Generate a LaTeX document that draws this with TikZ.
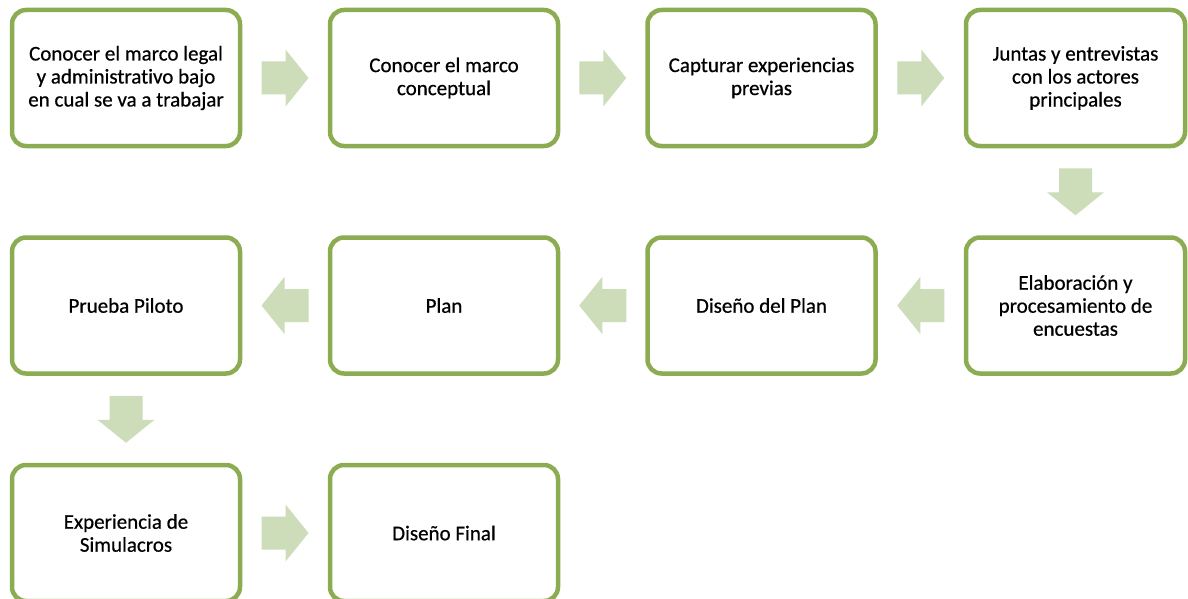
\documentclass[tikz,border=0pt]{standalone}
\usepackage{fontspec}
\setmainfont{Carlito}[Ligatures=NoCommon,FakeBold=0.6]
\definecolor{verdeborde}{RGB}{140,172,82}
\definecolor{verdeflecha}{RGB}{205,220,185}
\tikzset{
  paso/.style={draw=verdeborde,line width=2.25pt,rounded corners=7pt,fill=white,
    minimum width=114pt,minimum height=68pt,inner sep=0pt,align=center,
    font=\fontsize{10.5}{11.5}\selectfont},
  flecha/.pic={\fill[verdeflecha] (-23.5,-16.5) -- (0.5,-16.5) -- (0.5,-28.5) -- (23.5,0)
    -- (0.5,28.5) -- (0.5,16.5) -- (-23.5,16.5) -- cycle;}
}

\begin{document}
\begin{tikzpicture}[x=0.5pt,y=-0.5pt]
\clip (0,0) rectangle (1188,599);
\fill[white] (0,0) rectangle (1188,599);
\node[paso] (marco) at (126,78) {Conocer el marco legal\\y administrativo bajo\\en cual se va a trabajar};
\node[paso] (concepto) at (444,78) {Conocer el marco\\conceptual};
\node[paso] (captura) at (761.5,78) {Capturar experiencias\\previas};
\node[paso,minimum width=109.5pt] (juntas) at (1075.5,78) {Juntas y entrevistas\\con los actores\\principales};
\node[paso,minimum width=109.5pt] (encuestas) at (1075.5,305.5) {Elaboración y\\procesamiento de\\encuestas};
\node[paso] (diseno) at (761.5,305.5) {Diseño del Plan};
\node[paso] (plan) at (444,305.5) {Plan};
\node[paso] (piloto) at (126,305.5) {Prueba Piloto};
\node[paso] (simulacro) at (126,533) {Experiencia de\\Simulacros};
\node[paso] (final) at (444,533) {Diseño Final};
\path (marco) -- (concepto) coordinate[midway] (f1);
\path (concepto) -- (captura) coordinate[midway] (f2);
\path (captura) -- (juntas) coordinate[midway] (f3);
\path (juntas) -- (encuestas) coordinate[midway] (f4);
\path (encuestas) -- (diseno) coordinate[midway] (f5);
\path (diseno) -- (plan) coordinate[midway] (f6);
\path (plan) -- (piloto) coordinate[midway] (f7);
\path (piloto) -- (simulacro) coordinate[midway] (f8);
\path (simulacro) -- (final) coordinate[midway] (f9);
\pic at (f1) {flecha};
\pic at (f2) {flecha};
\pic at (f3) {flecha};
\pic[rotate=-90] at (f4) {flecha};
\pic[rotate=180] at (f5) {flecha};
\pic[rotate=180] at (f6) {flecha};
\pic[rotate=180] at (f7) {flecha};
\pic[rotate=-90] at (f8) {flecha};
\pic at (f9) {flecha};
\end{tikzpicture}
\end{document}
